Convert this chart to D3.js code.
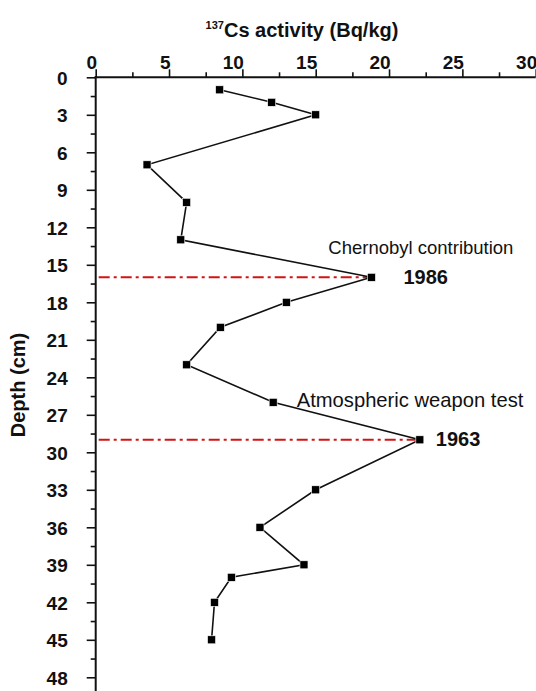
<!DOCTYPE html>
<html>
<head>
<meta charset="utf-8">
<script src="https://cdnjs.cloudflare.com/ajax/libs/d3/7.8.5/d3.min.js"></script>
<style>
  body { margin: 0; background: #fff; }
  svg { display: block; font-family: "Liberation Sans", Arial, sans-serif; }
</style>
</head>
<body>
<div id="chart"></div>
<script>
// depth of each slice (cm) and its 137Cs activity (Bq/kg)
var depths = [1, 2, 3, 7, 10, 13, 16, 18, 20, 23, 26, 29, 33, 36, 39, 40, 42, 45];
var activity = [8.45, 12.0, 15.0, 3.5, 6.2, 5.8, 18.8, 13.0, 8.5, 6.2, 12.1, 22.1, 15.0, 11.2, 14.2, 9.25, 8.1, 7.9];

// tick values
var xTicks = [0, 5, 10, 15, 20, 25, 30];
var yTicks = [0, 3, 6, 9, 12, 15, 18, 21, 24, 27, 30, 33, 36, 39, 42, 45, 48];

// marker years
var markerDepths = [16, 29];
var markerValues = [18.8, 22.1];
var markerYears = ["1986", "1963"];
var markerNotes = ["Chernobyl contribution", "Atmospheric weapon test"];

var svgWidth = 536;
var svgHeight = 691;

var margin = { top: 77.3, left: 95.7 };
var width = 440;
var height = 600;

var svg = d3.select("#chart")
  .append("svg")
  .attr("width", svgWidth)
  .attr("height", svgHeight);

var chartGroup = svg.append("g")
  .attr("transform", `translate(${margin.left}, ${margin.top})`);

var xScale = d3.scaleLinear().domain([0, 30]).range([0, width]);
var yScale = d3.scaleLinear().domain([0, 48]).range([0, height]);

var data = depths.map(function(d, i) {
  return { depth: d, value: activity[i] };
});

// minor ticks first (no labels)
var xMinor = d3.range(2.5, 30, 5);
var yMinor = d3.range(1.5, 48, 3);

chartGroup.append("g")
  .attr("class", "x-minor")
  .call(d3.axisTop(xScale).tickValues(xMinor).tickSize(5).tickFormat(""))
  .call(g => g.select(".domain").remove());

chartGroup.append("g")
  .attr("class", "y-minor")
  .call(d3.axisLeft(yScale).tickValues(yMinor).tickSize(5).tickFormat(""))
  .call(g => g.select(".domain").remove());

// major axes
var xAxis = chartGroup.append("g")
  .call(d3.axisTop(xScale).tickValues(xTicks).tickSize(8).tickSizeOuter(0));

var yAxis = chartGroup.append("g")
  .call(d3.axisLeft(yScale).tickValues(yTicks).tickSize(9).tickSizeOuter(0));

chartGroup.selectAll(".tick line")
  .attr("stroke", "#111")
  .attr("stroke-width", 1.6);

xAxis.select(".domain").remove();
yAxis.select(".domain").remove();

// axis lines drawn by hand so the y line runs to the bottom of the page
chartGroup.append("line")
  .attr("x1", -1).attr("x2", width)
  .attr("y1", 0).attr("y2", 0)
  .attr("stroke", "#111").attr("stroke-width", 2);

chartGroup.append("line")
  .attr("x1", 0).attr("x2", 0)
  .attr("y1", -1).attr("y2", svgHeight - margin.top)
  .attr("stroke", "#111").attr("stroke-width", 2);

xAxis.selectAll("text")
  .attr("text-anchor", "end")
  .attr("x", 1)
  .attr("y", -8.5)
  .attr("dy", 0)
  .attr("font-size", 19)
  .attr("font-weight", "bold")
  .attr("fill", "#111")
  .attr("font-family", "Liberation Sans, Arial, sans-serif");

yAxis.selectAll("text")
  .attr("x", -28)
  .attr("dy", "0.36em")
  .attr("font-size", 19)
  .attr("font-weight", "bold")
  .attr("fill", "#111")
  .attr("font-family", "Liberation Sans, Arial, sans-serif");

// red dash-dot lines for the dated peaks
chartGroup.selectAll(".marker-line")
  .data(markerDepths)
  .enter()
  .append("line")
  .attr("class", "marker-line")
  .attr("x1", 3)
  .attr("x2", (d, i) => xScale(markerValues[i]))
  .attr("y1", d => yScale(d))
  .attr("y2", d => yScale(d))
  .attr("stroke", "#d01515")
  .attr("stroke-width", 2)
  .attr("stroke-dasharray", "11,4,3,4");

// profile line
var line = d3.line()
  .x(d => xScale(d.value))
  .y(d => yScale(d.depth));

chartGroup.append("path")
  .datum(data)
  .attr("d", line)
  .attr("fill", "none")
  .attr("stroke", "#111")
  .attr("stroke-width", 1.6);

// square markers
chartGroup.selectAll("rect.pt")
  .data(data)
  .enter()
  .append("rect")
  .attr("class", "pt")
  .attr("x", d => xScale(d.value) - 4)
  .attr("y", d => yScale(d.depth) - 4)
  .attr("width", 8)
  .attr("height", 8)
  .attr("fill", "#000")
  .attr("stroke", "#fff")
  .attr("stroke-width", 0.6);

// annotations
chartGroup.selectAll(".year")
  .data(markerYears)
  .enter()
  .append("text")
  .attr("class", "year")
  .attr("x", (d, i) => xScale(markerValues[i]) + (i === 0 ? 32 : 16))
  .attr("y", (d, i) => yScale(markerDepths[i]) + 6.5)
  .attr("font-size", 20)
  .attr("font-weight", "bold")
  .attr("fill", "#111")
  .text(d => d);

chartGroup.selectAll(".note")
  .data(markerNotes)
  .enter()
  .append("text")
  .attr("class", "note")
  .attr("x", (d, i) => i === 0 ? 232.6 : 201)
  .attr("y", (d, i) => yScale(markerDepths[i]) - (i === 0 ? 23 : 32.5))
  .attr("font-size", (d, i) => i === 0 ? 18.5 : 20.2)
  .attr("fill", "#111")
  .text(d => d);

// axis titles
var title = svg.append("text")
  .attr("x", 302)
  .attr("y", 36.5)
  .attr("text-anchor", "middle")
  .attr("font-size", 20)
  .attr("font-weight", "bold")
  .attr("fill", "#111");

title.append("tspan")
  .attr("font-size", 11)
  .attr("dy", -8)
  .text("137");

title.append("tspan")
  .attr("dy", 8)
  .text("Cs activity (Bq/kg)");

svg.append("text")
  .attr("transform", "translate(25, 385) rotate(-90)")
  .attr("text-anchor", "middle")
  .attr("font-size", 20)
  .attr("font-weight", "bold")
  .attr("fill", "#111")
  .text("Depth (cm)");
</script>
</body>
</html>
